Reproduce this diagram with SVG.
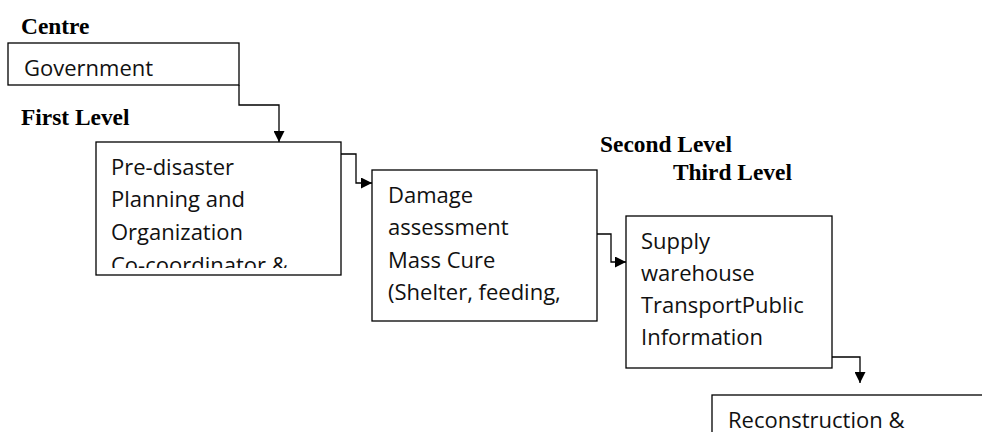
<svg xmlns="http://www.w3.org/2000/svg" width="982" height="432" viewBox="0 0 982 432">
<style>
.box{fill:#fff;stroke:#000;stroke-width:1.3}
.t{font-family:"Open Sans","Noto Sans",sans-serif;font-size:22px;fill:#111}
.lbl{font-family:"Liberation Serif","Times New Roman",serif;font-weight:bold;font-size:23.4px;fill:#000}
.c{fill:none;stroke:#000;stroke-width:1.3;marker-end:url(#ah)}
</style>
<defs>
<marker id="ah" viewBox="0 0 10 10" refX="10" refY="5" markerWidth="11" markerHeight="11" markerUnits="userSpaceOnUse" orient="auto">
<path d="M0,0 L10,5 L0,10 Z" fill="#000"/>
</marker>
<clipPath id="c1"><rect x="96" y="142" width="245" height="126"/></clipPath>
<clipPath id="c2"><rect x="372" y="170" width="225" height="151"/></clipPath>
</defs>
<rect width="982" height="432" fill="#fff"/>
<text class="lbl" x="21" y="34">Centre</text>
<text class="lbl" x="21" y="125">First Level</text>
<text class="lbl" x="600" y="152">Second Level</text>
<text class="lbl" x="673" y="180">Third Level</text>
<g id="connectors">
<path class="c" d="M239,85 V105 H279 V142"/>
<path class="c" d="M341,154 H356 V183 H372"/>
<path class="c" d="M597,234 H611 V262 H626"/>
<path class="c" d="M832,357 H860 V383"/>
</g>
<g id="government">
<rect class="box" x="8" y="43" width="231" height="42"/>
<text class="t" x="24" y="76">Government</text>
</g>
<g id="predisaster">
<rect class="box" x="96" y="142" width="245" height="133"/>
<g clip-path="url(#c1)">
<text class="t" x="111" y="175">Pre-disaster</text>
<text class="t" x="111" y="207">Planning and</text>
<text class="t" x="111" y="240">Organization</text>
<text class="t" x="111" y="273">Co-coordinator &amp;</text>
</g>
</g>
<g id="damage">
<rect class="box" x="372" y="170" width="225" height="151"/>
<g clip-path="url(#c2)">
<text class="t" x="388" y="203">Damage</text>
<text class="t" x="388" y="235">assessment</text>
<text class="t" x="388" y="268">Mass Cure</text>
<text class="t" x="388" y="300">(Shelter, feeding,</text>
</g>
</g>
<g id="supply">
<rect class="box" x="626" y="216" width="206" height="152"/>
<text class="t" x="641" y="249">Supply</text>
<text class="t" x="641" y="281">warehouse</text>
<text class="t" x="641" y="313">TransportPublic</text>
<text class="t" x="641" y="345">Information</text>
</g>
<g id="reconstruction">
<rect class="box" x="712" y="395" width="280" height="60"/>
<text class="t" x="728" y="428">Reconstruction &amp;</text>
</g>
</svg>
